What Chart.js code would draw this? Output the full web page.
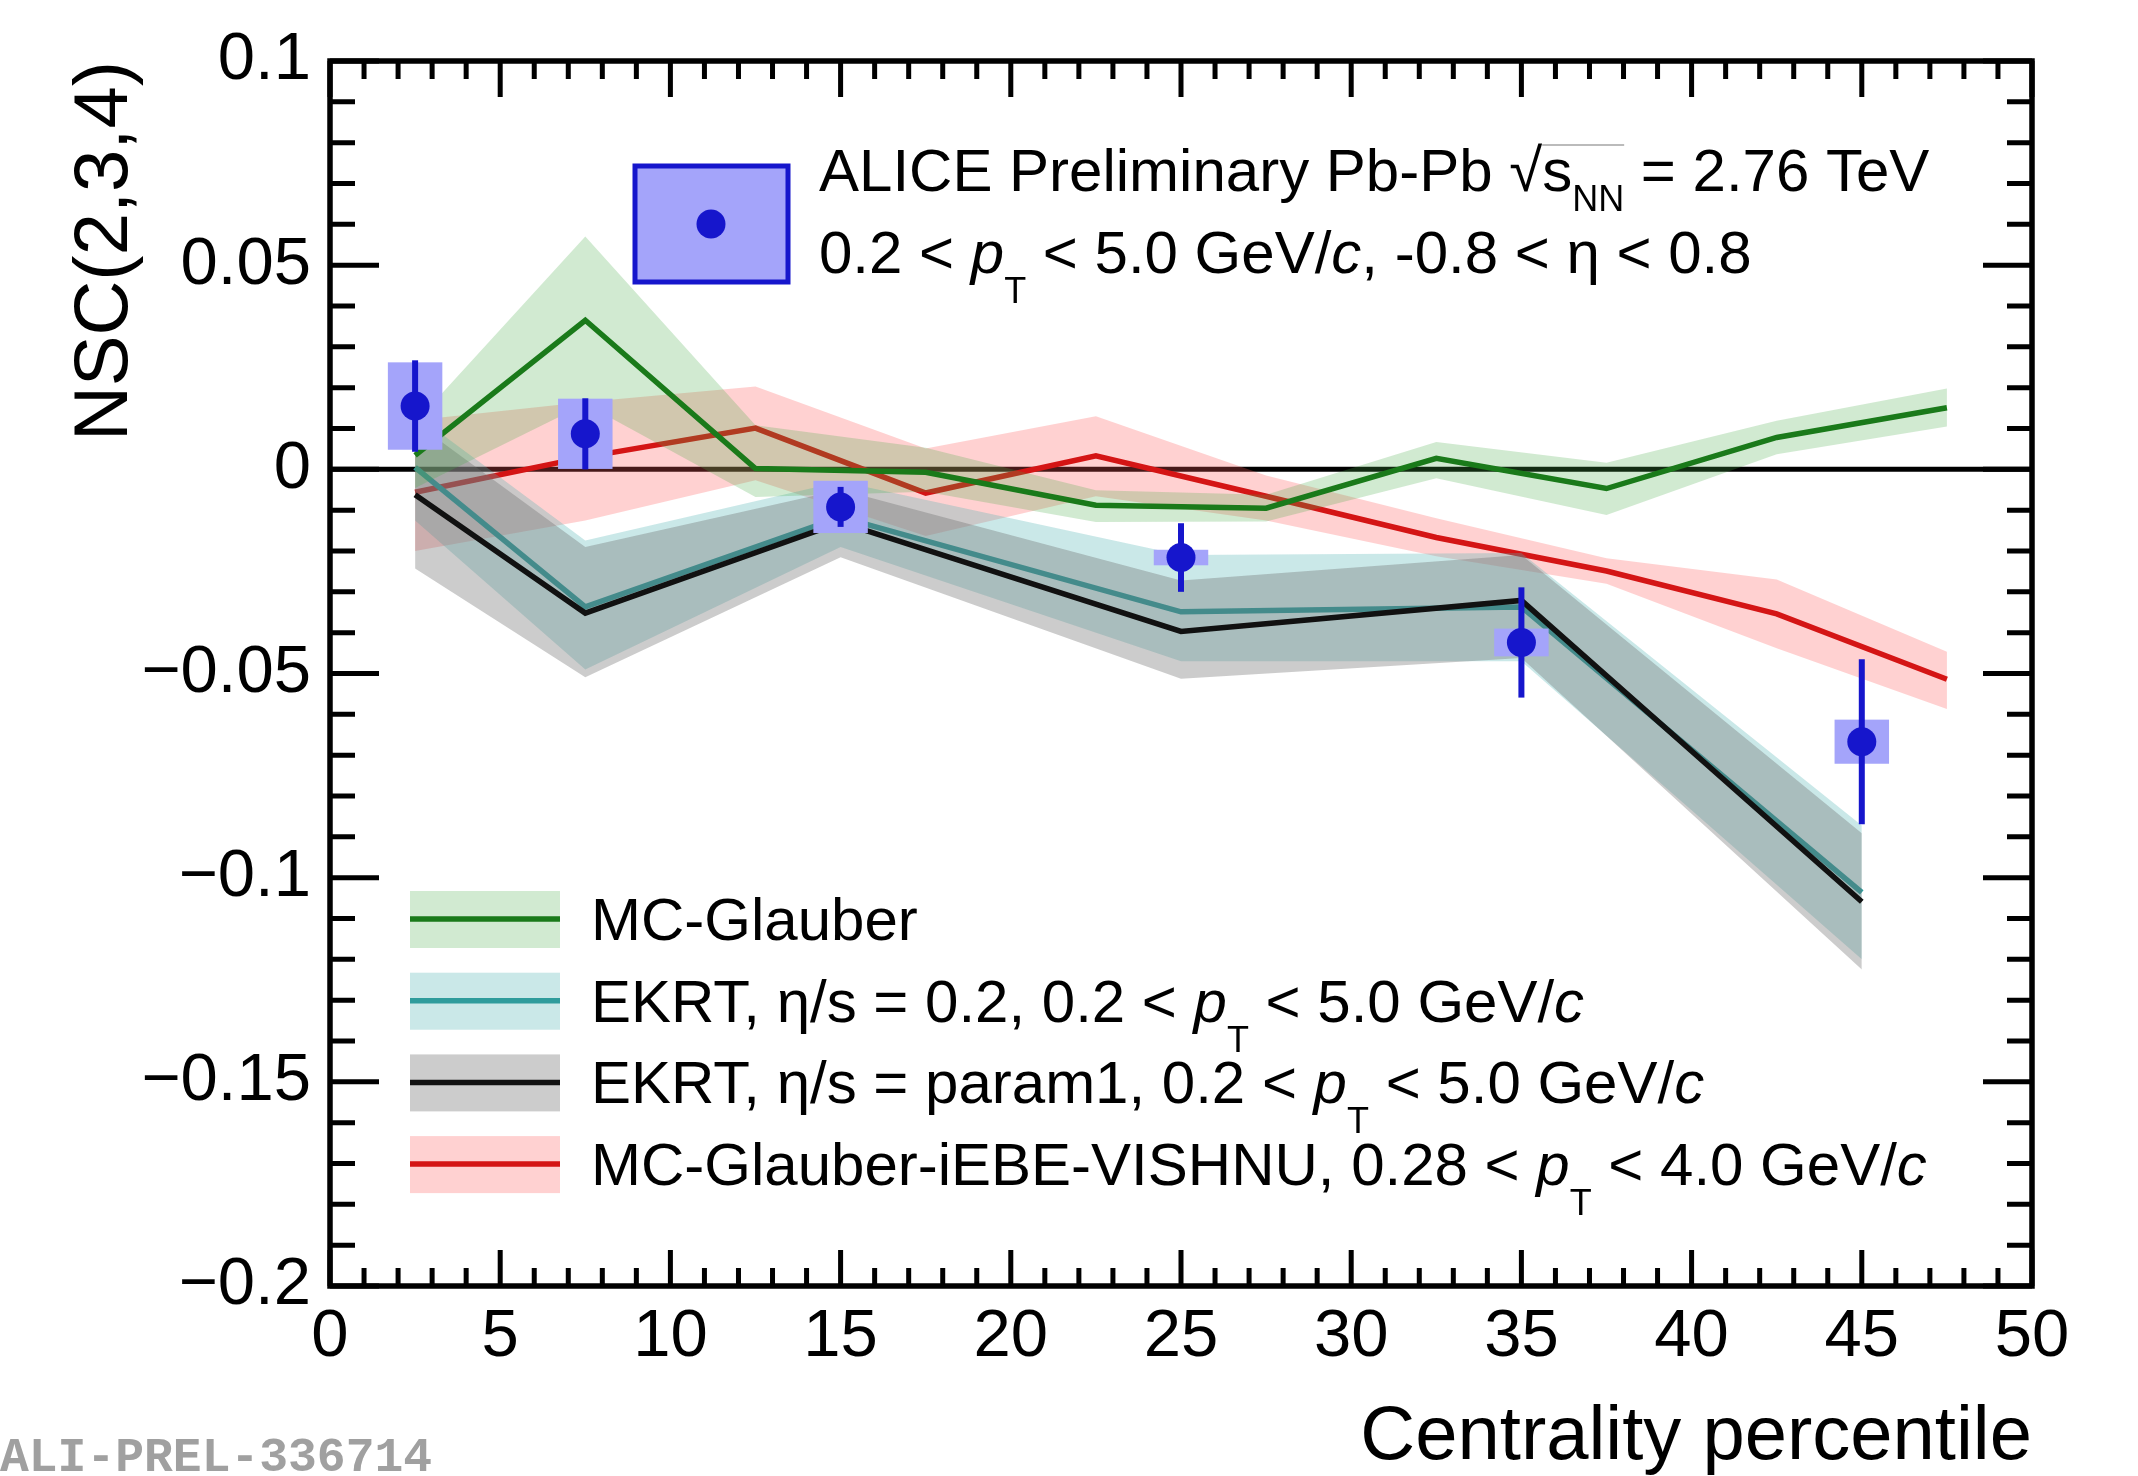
<!DOCTYPE html>
<html>
<head>
<meta charset="utf-8">
<script src="https://cdn.jsdelivr.net/npm/chart.js@4.4.0/dist/chart.umd.min.js"></script>
<style>
  html, body { margin: 0; padding: 0; background: #fff; }
  #wrap { width: 2138px; height: 1476px; position: relative; }
</style>
</head>
<body>
<div id="wrap"><canvas id="nsc"></canvas></div>
<script>
// ALICE preliminary points
var dataX    = [2.5, 7.5, 15, 25, 35, 45];
var dataY    = [0.0155, 0.0087, -0.0092, -0.0216, -0.0424, -0.0667];
var dataStat = [0.0112, 0.0087, 0.0049, 0.0084, 0.0135, 0.0202];
var dataSys  = [0.0107, 0.0086, 0.0064, 0.0019, 0.0034, 0.0054];
var sysHalfWidth = 0.8;

// MC-Glauber
var glauberX  = [2.5, 7.5, 12.5, 17.5, 22.5, 27.5, 32.5, 37.5, 42.5, 47.5];
var glauberY  = [0.0034, 0.0365, 0.0002, -0.0007, -0.0088, -0.0095, 0.0027, -0.0047, 0.0078, 0.0151];
var glauberHi = [0.0114, 0.057, 0.0108, 0.0053, -0.0051, -0.0062, 0.0067, 0.0016, 0.0119, 0.0198];
var glauberLo = [-0.0046, 0.016, -0.0068, -0.0055, -0.0129, -0.0128, -0.0022, -0.0112, 0.0037, 0.0105];

// MC-Glauber-iEBE-VISHNU
var vishnuX  = [2.5, 7.5, 12.5, 17.5, 22.5, 27.5, 32.5, 37.5, 42.5, 47.5];
var vishnuY  = [-0.0056, 0.003, 0.0101, -0.0058, 0.0033, -0.0066, -0.0167, -0.0249, -0.0354, -0.0514];
var vishnuHi = [0.012, 0.0165, 0.0203, 0.0051, 0.013, -0.0015, -0.012, -0.0218, -0.027, -0.0447];
var vishnuLo = [-0.02, -0.0125, -0.0027, -0.0163, -0.0066, -0.0125, -0.0213, -0.028, -0.0438, -0.0587];

// EKRT
var ekrtX    = [2.5, 7.5, 15, 25, 35, 45];
var ekrt02Y  = [0.0005, -0.0337, -0.0117, -0.0349, -0.0337, -0.1036];
var ekrt02Hi = [0.0135, -0.0174, -0.003, -0.021, -0.0205, -0.0872];
var ekrt02Lo = [-0.0125, -0.049, -0.019, -0.047, -0.047, -0.12];
var ekrtP1Y  = [-0.0062, -0.0352, -0.013, -0.0397, -0.0321, -0.1059];
var ekrtP1Hi = [0.0115, -0.019, -0.005, -0.0272, -0.021, -0.0891];
var ekrtP1Lo = [-0.0243, -0.0509, -0.0215, -0.0513, -0.0462, -0.1225];

var FONT = '"Liberation Sans", Arial, Helvetica, sans-serif';
var BLUE = '#1616cc';
var BOX = '#a4a4fa';

var colGreen = '#1a7a1a', bandGreen = 'rgba(70,170,70,0.25)';
var colTeal = '#2f9c9c', bandTeal = 'rgba(80,180,180,0.3)';
var colBlack = '#111111', bandGrey = 'rgba(110,110,110,0.35)';
var colRed = '#d41515', bandRed = 'rgba(255,90,90,0.28)';

function pts(xs, ys) {
	return xs.map(function(x, i) { return {x: x, y: ys[i]}; });
}

function band(xs, hi, lo, color, order) {
	return [
		{ data: pts(xs, hi), borderColor: 'rgba(0,0,0,0)', borderWidth: 0, pointRadius: 0, fill: false, order: order + 2 },
		{ data: pts(xs, lo), borderColor: 'rgba(0,0,0,0)', borderWidth: 0, pointRadius: 0, fill: '-1', backgroundColor: color, order: order + 1 }
	];
}

function line(xs, ys, color, order) {
	return { data: pts(xs, ys), borderColor: color, borderWidth: 5.5, pointRadius: 0, fill: false, order: order };
}

var datasets = [].concat(
	band(vishnuX, vishnuHi, vishnuLo, bandRed, 40), [line(vishnuX, vishnuY, colRed, 40)],
	band(ekrtX, ekrt02Hi, ekrt02Lo, bandTeal, 30), [line(ekrtX, ekrt02Y, colTeal, 30)],
	band(ekrtX, ekrtP1Hi, ekrtP1Lo, bandGrey, 20), [line(ekrtX, ekrtP1Y, colBlack, 20)],
	band(glauberX, glauberHi, glauberLo, bandGreen, 10), [line(glauberX, glauberY, colGreen, 10)]
);
var DATA_INDEX = datasets.length;
datasets.push({
	type: 'scatter', data: pts(dataX, dataY), pointRadius: 14.5, pointHoverRadius: 14.5,
	pointBackgroundColor: BLUE, pointBorderWidth: 0, showLine: false, order: 0
});

// draw text with italic / subscript pieces
function drawRich(ctx, x, y, parts, size) {
	parts.forEach(function(p) {
		var fs = p.sub ? size * p.sub : size;
		ctx.font = (p.it ? 'italic ' : '') + fs + 'px ' + FONT;
		ctx.fillText(p.t, x, p.sub ? y + size * p.dy : y);
		x += ctx.measureText(p.t).width;
	});
	return x;
}

var T = { t: 'T', sub: 0.6, dy: 0.5 };
var P = { t: 'p', it: true };
var C = { t: 'c', it: true };

var legendRows = [
	{ line: colGreen, band: bandGreen, parts: [{t: 'MC-Glauber'}] },
	{ line: colTeal, band: bandTeal, parts: [{t: 'EKRT, \u03b7/s = 0.2, 0.2 < '}, P, T, {t: ' < 5.0 GeV/'}, C] },
	{ line: colBlack, band: bandGrey, parts: [{t: 'EKRT, \u03b7/s = param1, 0.2 < '}, P, T, {t: ' < 5.0 GeV/'}, C] },
	{ line: colRed, band: bandRed, parts: [{t: 'MC-Glauber-iEBE-VISHNU, 0.28 < '}, P, T, {t: ' < 4.0 GeV/'}, C] }
];

var rootStyle = {
	id: 'rootStyle',
	beforeDatasetsDraw: function(chart) {
		var ctx = chart.ctx, a = chart.chartArea;
		var y0 = chart.scales.y.getPixelForValue(0);
		ctx.save();
		ctx.strokeStyle = '#000';
		ctx.lineWidth = 5;
		ctx.beginPath();
		ctx.moveTo(a.left, y0);
		ctx.lineTo(a.right, y0);
		ctx.stroke();
		ctx.restore();
	},
	beforeDatasetDraw: function(chart, args) {
		if (args.index !== DATA_INDEX) return;
		var ctx = chart.ctx, xs = chart.scales.x, ys = chart.scales.y;
		ctx.save();
		ctx.fillStyle = BOX;
		dataX.forEach(function(x, i) {
			var l = xs.getPixelForValue(x - sysHalfWidth), r = xs.getPixelForValue(x + sysHalfWidth);
			var t = ys.getPixelForValue(dataY[i] + dataSys[i]), b = ys.getPixelForValue(dataY[i] - dataSys[i]);
			ctx.fillRect(l, t, r - l, b - t);
		});
		ctx.strokeStyle = BLUE;
		ctx.lineWidth = 6;
		dataX.forEach(function(x, i) {
			var px = xs.getPixelForValue(x);
			ctx.beginPath();
			ctx.moveTo(px, ys.getPixelForValue(dataY[i] + dataStat[i]));
			ctx.lineTo(px, ys.getPixelForValue(dataY[i] - dataStat[i]));
			ctx.stroke();
		});
		ctx.restore();
	},
	afterDraw: function(chart) {
		var ctx = chart.ctx, a = chart.chartArea, xs = chart.scales.x, ys = chart.scales.y;
		var v, p, len;
		ctx.save();
		ctx.strokeStyle = '#000';
		ctx.lineWidth = 5.5;
		ctx.strokeRect(a.left, a.top, a.right - a.left, a.bottom - a.top);
		ctx.lineWidth = 5;
		ctx.beginPath();
		for (v = 0; v <= 50; v++) {
			p = xs.getPixelForValue(v);
			len = v % 5 === 0 ? 36 : 18;
			ctx.moveTo(p, a.bottom); ctx.lineTo(p, a.bottom - len);
			ctx.moveTo(p, a.top); ctx.lineTo(p, a.top + len);
		}
		for (v = -20; v <= 10; v++) {
			p = ys.getPixelForValue(v / 100);
			len = v % 5 === 0 ? 49 : 25;
			ctx.moveTo(a.left, p); ctx.lineTo(a.left + len, p);
			ctx.moveTo(a.right, p); ctx.lineTo(a.right - len, p);
		}
		ctx.stroke();

		// data legend
		ctx.fillStyle = BOX;
		ctx.fillRect(635, 166, 153, 116);
		ctx.strokeStyle = BLUE;
		ctx.lineWidth = 5;
		ctx.strokeRect(635, 166, 153, 116);
		ctx.fillStyle = BLUE;
		ctx.beginPath();
		ctx.arc(711, 224, 14.5, 0, Math.PI * 2);
		ctx.fill();

		ctx.fillStyle = '#000';
		ctx.textBaseline = 'alphabetic';
		ctx.textAlign = 'left';
		var x = drawRich(ctx, 819, 191, [{t: 'ALICE Preliminary Pb-Pb '}, {t: '\u221a'}], 60);
		var x2 = drawRich(ctx, x, 191, [{t: 's'}, {t: 'NN', sub: 0.6, dy: 0.33}], 60);
		ctx.strokeStyle = '#bbbbbb';
		ctx.lineWidth = 2;
		ctx.beginPath();
		ctx.moveTo(x, 145); ctx.lineTo(x2, 145);
		ctx.stroke();
		drawRich(ctx, x2, 191, [{t: ' = 2.76 TeV'}], 60);
		drawRich(ctx, 819, 273, [{t: '0.2 < '}, P, T, {t: ' < 5.0 GeV/'}, C, {t: ', -0.8 < \u03b7 < 0.8'}], 60);

		// model legend
		legendRows.forEach(function(row, i) {
			var cy = 919 + i * 81.7;
			ctx.fillStyle = row.band;
			ctx.fillRect(410, cy - 28, 150, 57);
			ctx.strokeStyle = row.line;
			ctx.lineWidth = 5.5;
			ctx.beginPath();
			ctx.moveTo(410, cy); ctx.lineTo(560, cy);
			ctx.stroke();
			ctx.fillStyle = '#000';
			drawRich(ctx, 591, cy + 21, row.parts, 60);
		});

		ctx.fillStyle = '#a0a0a0';
		ctx.font = 'bold 48px "Liberation Mono", "DejaVu Sans Mono", monospace';
		ctx.fillText('ALI-PREL-336714', 0, 1471);
		ctx.restore();
	}
};

function fmtY(v) {
	var r = Math.round(v * 100) / 100;
	if (r === 0) return '0';
	return String(r).replace('-', '\u2212');
}

var config = {
	type    : 'line',
	data    : { datasets: datasets },
	options : {
		responsive          : true,
		maintainAspectRatio : false,
		animation           : false,
		devicePixelRatio    : 1,
		layout              : { padding: { top: 61, right: 106, left: 0, bottom: 0 } },
		plugins             : { legend: { display: false }, tooltip: { enabled: false } },
		scales              : {
			x : {
				type   : 'linear',
				min    : 0,
				max    : 50,
				grid   : { display: false, drawTicks: false },
				border : { display: false },
				ticks  : {
					stepSize : 5, autoSkip: false, maxRotation: 0, padding: 11, color: '#000',
					font     : { size: 67, family: FONT },
					callback : function(v) { return String(v); }
				},
				title  : {
					display: true, text: 'Centrality percentile', align: 'end', color: '#000',
					font: { size: 76, family: FONT }, padding: { top: 0, bottom: -8 }
				},
				afterFit : function(s) { s.height = 190; }
			},
			y : {
				min    : -0.2,
				max    : 0.1,
				grid   : { display: false, drawTicks: false },
				border : { display: false },
				ticks  : {
					stepSize : 0.05, padding: 19, color: '#000',
					font     : { size: 67, family: FONT },
					callback : fmtY
				},
				title  : {
					display: true, text: 'NSC(2,3,4)', align: 'end', color: '#000',
					font: { size: 76, family: FONT }, padding: { top: 60, bottom: 0 }
				},
				afterFit : function(s) { s.width = 330; }
			}
		}
	},
	plugins : [rootStyle]
};

window.onload = function() {
	var ctx = document.getElementById('nsc').getContext('2d');
	window.nscChart = new Chart(ctx, config);
};
</script>
</body>
</html>
